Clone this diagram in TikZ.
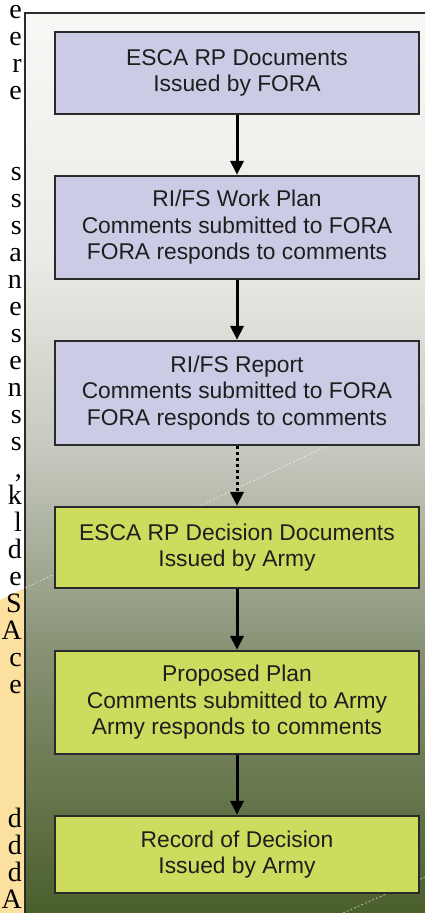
\documentclass[tikz,border=0pt]{standalone}
\usepackage{fontspec}
\setmainfont{Liberation Serif}
\newfontfamily\boxfont{Liberation Sans}
\usetikzlibrary{arrows.meta,positioning}

\definecolor{fsbox}{HTML}{CBCBE5}
\definecolor{armybox}{HTML}{CDDC5E}
\definecolor{boxline}{HTML}{2A2A2A}
\definecolor{boxtext}{HTML}{1E1E1E}
\definecolor{calloutfill}{HTML}{FCE0A0}
\definecolor{bgA}{HTML}{F7F7F5}
\definecolor{bgB}{HTML}{EBECE7}
\definecolor{bgC}{HTML}{C6C9BF}
\definecolor{bgD}{HTML}{879274}
\definecolor{bgE}{HTML}{4B5F2C}

\tikzset{
  stepbox/.style={draw=boxline, line width=2.2pt, minimum width=364pt, inner sep=0pt,
    align=center, text=boxtext, font=\boxfont\fontsize{22.8}{26.5}\selectfont},
  fsstep/.style={stepbox, fill=fsbox},
  armystep/.style={stepbox, fill=armybox},
  flow/.style={draw=black, line width=3pt, -{Triangle[width=13pt,length=14pt]}},
  pagetext/.style={anchor=base east, inner sep=0pt, text height=12pt,
    font=\fontsize{28}{30}\selectfont},
  ghostline/.style={white, opacity=0.7, line width=0.6pt, dash pattern=on 2pt off 2pt}
}

\begin{document}
\begin{tikzpicture}[x=1pt,y=-1pt]

  \useasboundingbox (0,0) rectangle (425,913);

  % edge of the page text and its callout
  \fill[calloutfill] (0,600) -- (25,588) -- (25,913) -- (0,913) -- cycle;
  \foreach \ltr/\yy [count=\i] in {e/18, e/45, r/72, e/99,
      s/180, s/207, s/234, a/261, n/288, e/315, s/342, e/369, n/396, s/423,
      s/450, {,}/477, k/504, l/531, d/558, e/585, S/612, A/639, c/666, e/693,
      d/827, d/854, d/881, A/908}
    \node[pagetext] (pageline\i) at (22,\yy) {\ltr};

  % panel background
  \shade[top color=bgA, bottom color=bgB] (25,13) rectangle (425,250);
  \shade[top color=bgB, bottom color=bgC] (25,250) rectangle (425,450);
  \shade[top color=bgC, bottom color=bgD] (25,450) rectangle (425,650);
  \shade[top color=bgD, bottom color=bgE] (25,650) rectangle (425,913);
  \draw[boxline, line width=2pt] (25,913) -- (25,13) -- (425,13);

  \draw[ghostline] (25,588) -- (425,400);
  \draw[ghostline] (343,913) -- (425,877);

  % steps
  \node[fsstep, minimum height=82pt] (escadocs) at (237,73)
    {ESCA RP Documents\\Issued by FORA};
  \node[fsstep, minimum height=103pt] (workplan) at (237,227.5)
    {RI/FS Work Plan\\Comments submitted to FORA\\FORA responds to comments};
  \node[fsstep, minimum height=104pt] (rifsreport) at (237,393)
    {RI/FS Report\\Comments submitted to FORA\\FORA responds to comments};
  \node[armystep, minimum height=81pt] (decisiondocs) at (237,547.5)
    {ESCA RP Decision Documents\\Issued by Army};
  \node[armystep, minimum height=103pt] (proposedplan) at (237,702.5)
    {Proposed Plan\\Comments submitted to Army\\Army responds to comments};
  \node[armystep, minimum height=77pt] (rod) at (237,854.5)
    {Record of Decision\\Issued by Army};

  \draw[flow] (escadocs) -- (workplan);
  \draw[flow] (workplan) -- (rifsreport);
  \draw[flow, dash pattern=on 3pt off 3pt] (rifsreport) -- (decisiondocs);
  \draw[flow] (decisiondocs) -- (proposedplan);
  \draw[flow] (proposedplan) -- (rod);

\end{tikzpicture}
\end{document}
